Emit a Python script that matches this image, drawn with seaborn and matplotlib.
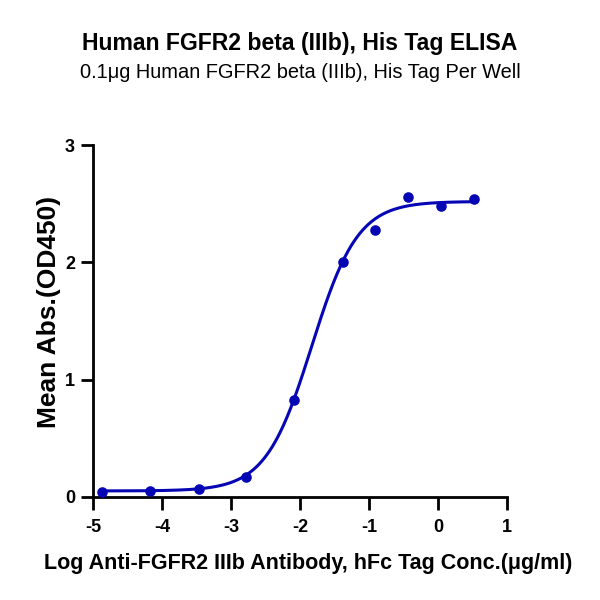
import numpy as np
import pandas as pd
import seaborn as sns
import matplotlib
matplotlib.use("Agg")
import matplotlib.pyplot as plt

log_conc = [-4.87, -4.17, -3.47, -2.78, -2.08, -1.38, -0.91, -0.44, 0.04, 0.52]
mean_abs = [0.04, 0.05, 0.07, 0.17, 0.83, 2.00, 2.28, 2.56, 2.48, 2.54]

# 4PL fit parameters (bottom, top, logEC50, hill)
fit_bottom = 0.05
fit_top = 2.52
fit_logec50 = -1.83
fit_hill = 1.30

title = "Human FGFR2 beta (IIIb), His Tag ELISA"
subtitle = "0.1\u03bcg Human FGFR2 beta (IIIb), His Tag Per Well"
xlabel = "Log Anti-FGFR2 IIIb Antibody, hFc Tag Conc.(\u03bcg/ml)"
ylabel = "Mean Abs.(OD450)"
xticks = [-5, -4, -3, -2, -1, 0, 1]
yticks = [0, 1, 2, 3]

blue = "#0606b4"

sns.set_theme(style="ticks")
plt.rcParams["font.family"] = ["Liberation Sans", "DejaVu Sans"]

pts = pd.DataFrame({"x": log_conc, "y": mean_abs})
xs = np.linspace(min(log_conc), max(log_conc), 300)
curve = pd.DataFrame({
    "x": xs,
    "y": fit_bottom + (fit_top - fit_bottom) / (1 + 10 ** ((fit_logec50 - xs) * fit_hill)),
})

fig = plt.figure(figsize=(6, 6), dpi=100)
ax = fig.add_axes([0.155, 0.172, 0.69, 0.586])

sns.lineplot(data=curve, x="x", y="y", ax=ax, color=blue, linewidth=2.2)
sns.scatterplot(data=pts, x="x", y="y", ax=ax, color=blue, s=58, edgecolor=blue, linewidth=0, zorder=3)

ax.set_xlim(-5, 1)
ax.set_ylim(0, 3)
ax.set_xticks(xticks)
ax.set_yticks(yticks)
ax.set_xticklabels([str(t) for t in xticks], fontsize=13, fontweight="bold", color="black")
ax.set_yticklabels([str(t) for t in yticks], fontsize=13, fontweight="bold", color="black")
ax.tick_params(axis="x", direction="out", length=9, width=2, color="black", pad=7)
ax.tick_params(axis="y", direction="out", length=9, width=2, color="black", pad=4)
for side in ["left", "bottom"]:
    ax.spines[side].set_linewidth(2)
    ax.spines[side].set_color("black")
sns.despine(ax=ax)
for coll in ax.collections:
    coll.set_clip_on(False)

ax.set_xlabel(xlabel, fontsize=15.5, fontweight="bold", color="black")
ax.set_ylabel(ylabel, fontsize=19, fontweight="bold", color="black")
ax.xaxis.set_label_coords(0.52, -0.16)
ax.yaxis.set_label_coords(-0.078, 0.527)

fig.text(0.5, 0.928, title, ha="center", va="center", fontsize=16.6, fontweight="bold", color="black")
fig.text(0.5, 0.88, subtitle, ha="center", va="center", fontsize=14.4, color="black")

fig.savefig("out.png", dpi=100)
